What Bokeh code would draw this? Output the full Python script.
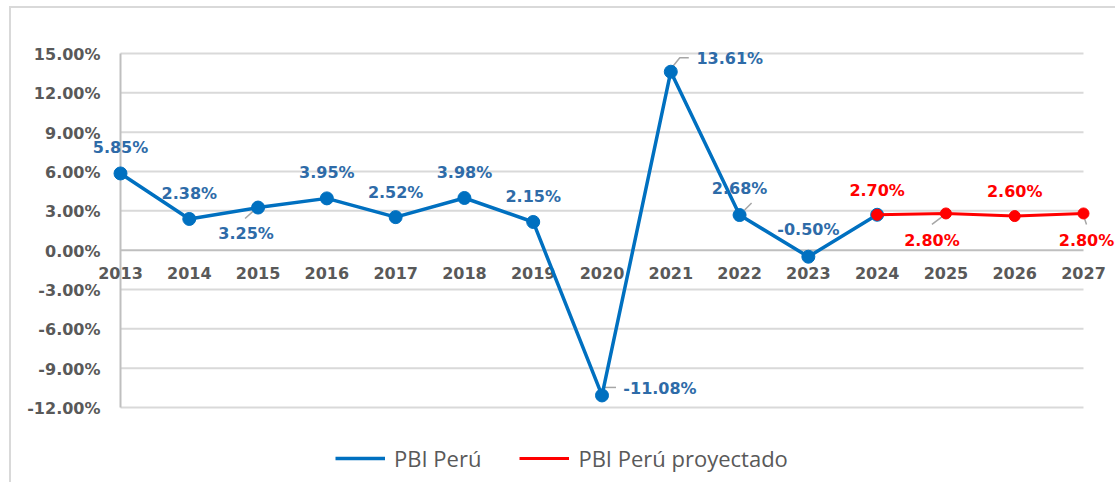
from bokeh.plotting import figure
from bokeh.models import ColumnDataSource, Legend, LegendItem, Range1d
from bokeh.embed import file_html
from bokeh.resources import INLINE
from bokeh.core.properties import value

# ---------------- data ----------------
years = [2013, 2014, 2015, 2016, 2017, 2018, 2019, 2020, 2021, 2022, 2023, 2024]
pbi = [5.85, 2.38, 3.25, 3.95, 2.52, 3.98, 2.15, -11.08, 13.61, 2.68, -0.50, 2.70]
proj_years = [2024, 2025, 2026, 2027]
pbi_proj = [2.70, 2.80, 2.60, 2.80]
y_ticks = [-12, -9, -6, -3, 0, 3, 6, 9, 12, 15]
y_labels = [f"{t:.2f}%" for t in y_ticks]
x_ticks = [2013, 2014, 2015, 2016, 2017, 2018, 2019, 2020, 2021, 2022, 2023, 2024, 2025, 2026, 2027]
x_labels = [str(y) for y in x_ticks]
series_names = ["PBI Perú", "PBI Perú proyectado"]

# ---------------- styling / placement ----------------
BLUE = "#0070C0"
BLUE_TXT = "#2E6BA8"
RED = "#FF0000"
GRAY_TXT = "#595959"
GRID = "#D9D9D9"
AXIS = "#BFBFBF"
LEADER = "#A6A6A6"
FONT = "DejaVu Sans"

blue_dx = [0, 0, -12, 0, 0, 0, 0, 58, 59, 0, 0]
blue_dy = [-26, -25, 26, -26, -25, -25, -25, -7, -13, -27, -27]
red_dx = [0, -14, 0, 3]
red_dy = [-24, 27, -25, 27]

W, H = 1106, 476
X0_PX, X1_PX = 109, 1072      # canvas px of first / last category
YTOP_PX, YBOT_PX = 45, 399    # canvas px of top / bottom tick
ppx = (X1_PX - X0_PX) / (x_ticks[-1] - x_ticks[0])
ppy = (YBOT_PX - YTOP_PX) / (y_ticks[-1] - y_ticks[0])
x_start = x_ticks[0] - X0_PX / ppx
x_end = x_ticks[-1] + (W - X1_PX) / ppx
y_end = y_ticks[-1] + YTOP_PX / ppy
y_start = y_ticks[0] - (H - YBOT_PX) / ppy

p = figure(width=W, height=H, output_backend="svg", toolbar_location=None,
           x_range=Range1d(x_start, x_end), y_range=Range1d(y_start, y_end),
           x_axis_location=None, y_axis_location=None,
           min_border_left=0, min_border_right=0, min_border_top=0,
           min_border_bottom=0)
p.styles = {"margin-top": "6px", "margin-left": "9px",
            "border-top": f"2px solid {GRID}", "border-left": f"2px solid {GRID}"}
p.outline_line_color = None
p.background_fill_color = "white"
p.border_fill_color = "white"
p.xgrid.visible = False
p.ygrid.visible = False

# gridlines limited to the category span (zero line a little darker)
p.segment(x0=[x_ticks[0]] * len(y_ticks), x1=[x_ticks[-1]] * len(y_ticks),
          y0=y_ticks, y1=y_ticks,
          line_color=[AXIS if t == 0 else GRID for t in y_ticks], line_width=2)
# value axis line
p.segment(x0=[x_ticks[0]], x1=[x_ticks[0]], y0=[y_ticks[0]], y1=[y_ticks[-1]],
          line_color=AXIS, line_width=2)

# value tick labels
p.text(x=[x_ticks[0]] * len(y_ticks), y=y_ticks, text=y_labels, x_offset=-20,
       y_offset=1, text_align="right", text_baseline="middle",
       text_font=value(FONT), text_font_style="bold", text_font_size="16px",
       text_color=GRAY_TXT)

# category labels sitting on the zero line
p.text(x=x_ticks, y=[0] * len(x_ticks), text=x_labels, y_offset=23,
       text_align="center", text_baseline="middle", text_font=value(FONT),
       text_font_style="bold", text_font_size="16px", text_color=GRAY_TXT)

# leader lines (point -> label)
leaders = [
    (years[2], pbi[2], [(-13, 11), (-2, 1)]),
    (years[7], pbi[7], [(2, -8), (14, -8)]),
    (years[8], pbi[8], [(1, -4), (9, -14), (18, -14)]),
    (years[9], pbi[9], [(5, -5), (12, -12)]),
    (proj_years[1], pbi_proj[1], [(-14, 11), (-2, 2)]),
    (proj_years[3], pbi_proj[3], [(0, 2), (3, 11)]),
]
p.multi_line(xs=[[x + dx / ppx for dx, dy in pts] for x, y, pts in leaders],
             ys=[[y - dy / ppy for dx, dy in pts] for x, y, pts in leaders],
             line_color=LEADER, line_width=1.5)

# series
src_b = ColumnDataSource(dict(x=years, y=pbi))
src_r = ColumnDataSource(dict(x=proj_years, y=pbi_proj))
line_b = p.line("x", "y", source=src_b, line_color=BLUE, line_width=3.5)
p.scatter("x", "y", source=src_b, size=13, fill_color=BLUE, line_color=BLUE)
line_r = p.line("x", "y", source=src_r, line_color=RED, line_width=3)
p.scatter("x", "y", source=src_r, size=11, fill_color=RED, line_color=RED)

# data labels
lab_b = ColumnDataSource(dict(x=years[:-1], y=pbi[:-1],
                              t=[f"{v:.2f}%" for v in pbi[:-1]],
                              dx=blue_dx, dy=blue_dy))
lab_r = ColumnDataSource(dict(x=proj_years, y=pbi_proj,
                              t=[f"{v:.2f}%" for v in pbi_proj],
                              dx=red_dx, dy=red_dy))
for src, col in ((lab_b, BLUE_TXT), (lab_r, RED)):
    p.text("x", "y", text="t", source=src, x_offset="dx", y_offset="dy",
           text_align="center", text_baseline="middle",
           text_font=value(FONT), text_font_style="bold",
           text_font_size="16px", text_color=col)

# legend
legend = Legend(items=[LegendItem(label=series_names[0], renderers=[line_b]),
                       LegendItem(label=series_names[1], renderers=[line_r])],
                orientation="horizontal", location=(324, 11),
                border_line_color=None, background_fill_alpha=0,
                label_text_font="Open Sans", label_text_font_size="22px",
                label_text_color=GRAY_TXT, glyph_width=50, glyph_height=20,
                label_standoff=9, spacing=38, padding=0, margin=0)
p.add_layout(legend)

open("out.html", "w").write(file_html(p, INLINE))
